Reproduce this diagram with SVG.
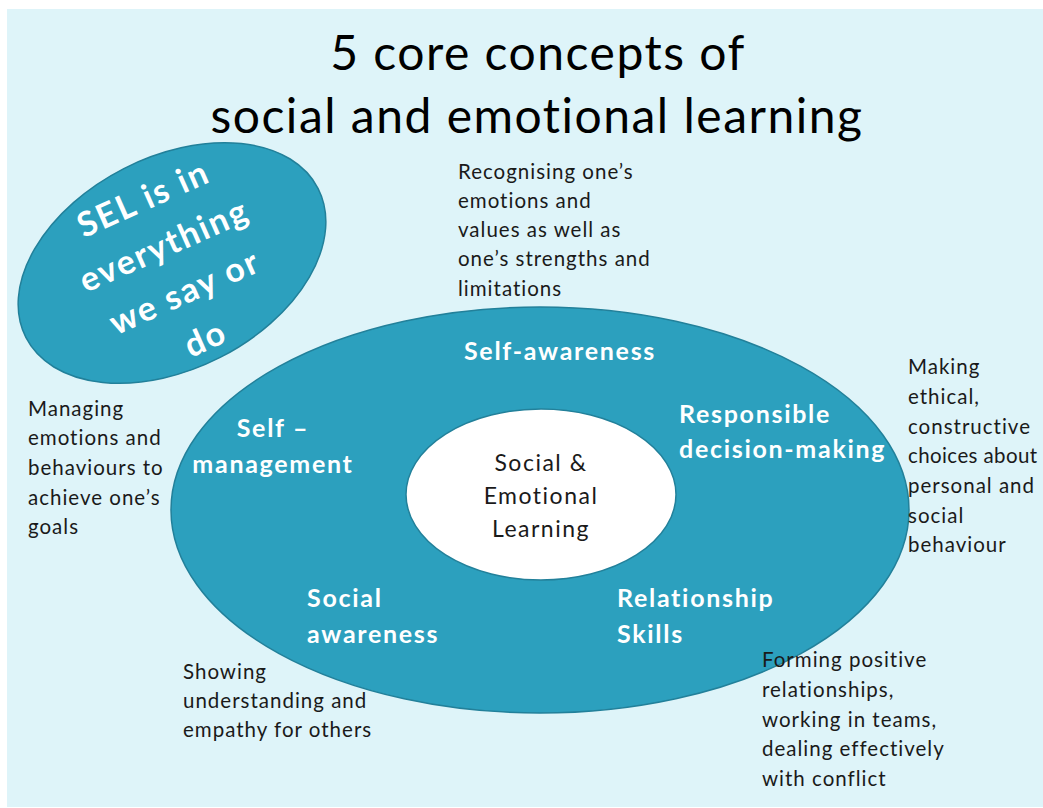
<svg xmlns="http://www.w3.org/2000/svg" width="1043" height="808" viewBox="0 0 1043 808">
<style>
.bg{fill:#def4f9}
.teal{fill:#2ca0be;stroke:#22809a;stroke-width:1.5}
.inner{fill:#ffffff;stroke:#22809a;stroke-width:1.5}
.title{font-family:Lato,"Liberation Sans",sans-serif;font-size:48px;letter-spacing:1.5px;fill:#000;text-anchor:middle}
.desc{font-family:Lato,"Liberation Sans",sans-serif;font-size:20.5px;letter-spacing:1px;fill:#1a1a1a}
.lbl{font-family:Lato,"Liberation Sans",sans-serif;font-size:25px;letter-spacing:1.7px;font-weight:bold;fill:#ffffff}
.ctr{font-family:Lato,"Liberation Sans",sans-serif;font-size:23px;letter-spacing:1.5px;fill:#1a1a1a;text-anchor:middle}
.sel{font-family:Lato,"Liberation Sans",sans-serif;font-size:34px;letter-spacing:2px;font-weight:bold;fill:#ffffff;text-anchor:middle}
</style>
<rect x="0" y="0" width="1043" height="808" fill="#ffffff"/>
<rect class="bg" x="7" y="9" width="1036" height="798"/>
<g id="title">
<text class="title" x="538" y="70">5 core concepts of</text>
<text class="title" x="537" y="133">social and emotional learning</text>
</g>
<g id="sel-note">
<ellipse class="teal" cx="172" cy="263" rx="164" ry="106" transform="rotate(-27 172 263)"/>
<g transform="translate(174 268) rotate(-24)">
<text class="sel" x="0" y="-64">SEL is in</text>
<text class="sel" x="0" y="-13">everything</text>
<text class="sel" x="0" y="38">we say or</text>
<text class="sel" x="0" y="89">do</text>
</g>
</g>
<g id="outer-ring">
<ellipse class="teal" cx="540" cy="510" rx="369" ry="203"/>
</g>
<g id="core">
<ellipse class="inner" cx="541" cy="494.5" rx="135" ry="85.5"/>
<text class="ctr" x="541" y="471">Social &amp;</text>
<text class="ctr" x="541" y="504">Emotional</text>
<text class="ctr" x="541" y="537">Learning</text>
</g>
<g id="self-awareness">
<text class="lbl" x="560" y="360" text-anchor="middle">Self-awareness</text>
<text class="desc" x="458" y="179">Recognising one’s</text>
<text class="desc" x="458" y="208">emotions and</text>
<text class="desc" x="458" y="237">values as well as</text>
<text class="desc" x="458" y="266">one’s strengths and</text>
<text class="desc" x="458" y="296">limitations</text>
</g>
<g id="self-management">
<text class="lbl" x="273" y="437" text-anchor="middle">Self –</text>
<text class="lbl" x="273" y="473" text-anchor="middle">management</text>
<text class="desc" x="28" y="416">Managing</text>
<text class="desc" x="28" y="445">emotions and</text>
<text class="desc" x="28" y="475">behaviours to</text>
<text class="desc" x="28" y="505">achieve one’s</text>
<text class="desc" x="28" y="534">goals</text>
</g>
<g id="responsible-decision-making">
<text class="lbl" x="679" y="423">Responsible</text>
<text class="lbl" x="679" y="458">decision-making</text>
<text class="desc" x="908" y="374">Making</text>
<text class="desc" x="908" y="404">ethical,</text>
<text class="desc" x="908" y="434">constructive</text>
<text class="desc" x="908" y="463" style="letter-spacing:0.4px">choices about</text>
<text class="desc" x="908" y="493">personal and</text>
<text class="desc" x="908" y="523">social</text>
<text class="desc" x="908" y="552">behaviour</text>
</g>
<g id="social-awareness">
<text class="lbl" x="307" y="607">Social</text>
<text class="lbl" x="307" y="643">awareness</text>
<text class="desc" x="183" y="679">Showing</text>
<text class="desc" x="183" y="708">understanding and</text>
<text class="desc" x="183" y="737">empathy for others</text>
</g>
<g id="relationship-skills">
<text class="lbl" x="617" y="607">Relationship</text>
<text class="lbl" x="617" y="643">Skills</text>
<text class="desc" x="762" y="667">Forming positive</text>
<text class="desc" x="762" y="697">relationships,</text>
<text class="desc" x="762" y="727">working in teams,</text>
<text class="desc" x="762" y="756">dealing effectively</text>
<text class="desc" x="762" y="786">with conflict</text>
</g>
<g id="connectors"></g>
</svg>
